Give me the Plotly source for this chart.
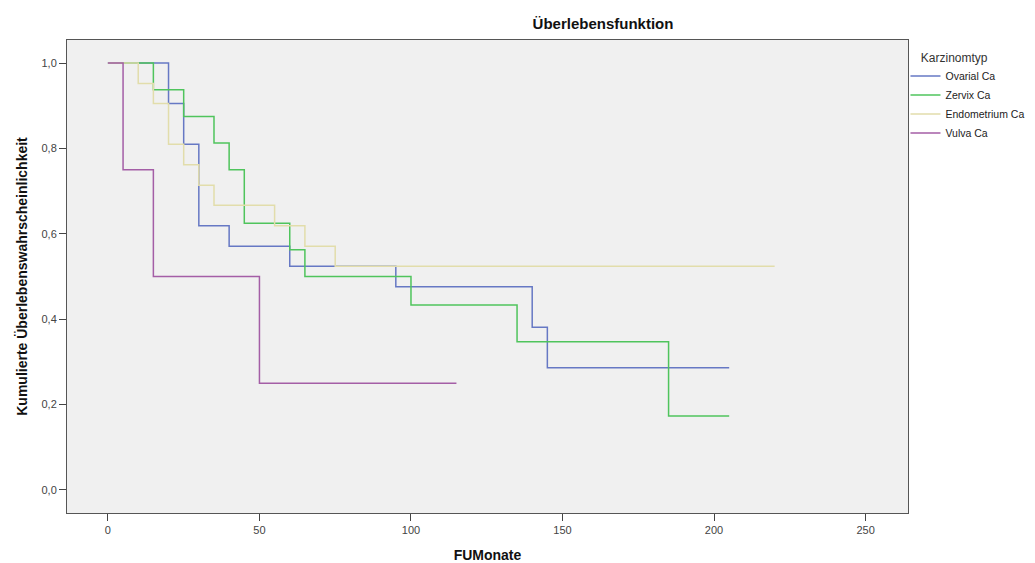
import plotly.graph_objects as go

# Data
series_names = ["Ovarial Ca", "Zervix Ca", "Endometrium Ca", "Vulva Ca"]
ovarial_t = [0, 20, 25, 30, 40, 60, 95, 140, 145, 205]
ovarial_s = [1.0, 0.905, 0.810, 0.619, 0.571, 0.524, 0.476, 0.381, 0.286, 0.286]
zervix_t = [0, 15, 25, 35, 40, 45, 60, 65, 100, 135, 185, 205]
zervix_s = [1.0, 0.9375, 0.875, 0.8125, 0.75, 0.625, 0.5625, 0.5, 0.433, 0.347, 0.173, 0.173]
endo_t = [0, 10, 15, 20, 25, 30, 35, 55, 65, 75, 220]
endo_s = [1.0, 0.952, 0.905, 0.810, 0.762, 0.714, 0.667, 0.619, 0.571, 0.524, 0.524]
vulva_t = [0, 5, 15, 50, 115]
vulva_s = [1.0, 0.75, 0.5, 0.25, 0.25]

y_ticks = [0.0, 0.2, 0.4, 0.6, 0.8, 1.0]
y_ticklabels = ["0,0", "0,2", "0,4", "0,6", "0,8", "1,0"]
x_ticks = [0, 50, 100, 150, 200, 250]

colors = ["#6678c4", "#4fc45c", "#e2ddab", "#a45ea6"]
data = [(ovarial_t, ovarial_s), (zervix_t, zervix_s), (endo_t, endo_s), (vulva_t, vulva_s)]

fig = go.Figure()
for name, (t, s), c in zip(series_names, data, colors):
    fig.add_trace(go.Scatter(x=t, y=s, mode="lines", name=name,
                             line=dict(color=c, width=1.5, shape="hv")))

font = "Liberation Sans, Arial, sans-serif"
fig.update_layout(
    width=1035, height=563,
    paper_bgcolor="white", plot_bgcolor="#f0f0f0",
    margin=dict(l=67, r=127, t=40, b=50, autoexpand=False),
    font=dict(family=font, size=11, color="#444"),
    title=dict(text="<b>Überlebensfunktion</b>", x=603/1035, xanchor="center",
               yref="container", y=1-24/563, yanchor="middle",
               font=dict(size=15, color="#111")),
    showlegend=True,
    legend=dict(x=0.997, xanchor="left", y=1-6/473, yanchor="top",
                title=dict(text="&nbsp;&nbsp;&nbsp;&nbsp;Karzinomtyp", font=dict(size=12, color="#333")),
                font=dict(size=10.5, color="#222"), bgcolor="rgba(0,0,0,0)",
                tracegroupgap=0, itemwidth=30),
    xaxis=dict(range=[-13.5, 264], tickvals=x_ticks, ticks="outside", ticklen=7,
               tickcolor="#444", showgrid=False, zeroline=False, showline=True,
               linecolor="#555", linewidth=1, mirror=True, automargin=False,
               title=dict(text="<b>FUMonate</b>", font=dict(size=14, color="#111"), standoff=18),
               tickfont=dict(size=11, color="#444")),
    yaxis=dict(range=[-0.054, 1.054], tickvals=y_ticks, ticktext=y_ticklabels,
               ticks="outside", ticklen=7, tickcolor="#444", showgrid=False,
               zeroline=False, showline=True, linecolor="#555", linewidth=1, mirror=True,
               automargin=False,
               title=dict(text="<b>Kumulierte Überlebenswahrscheinlichkeit</b>",
                          font=dict(size=14, color="#111"), standoff=10),
               tickfont=dict(size=11, color="#444")),
)

fig.write_html("out.html", config={"displayModeBar": False},
               post_script="document.body.style.margin='0px';")
